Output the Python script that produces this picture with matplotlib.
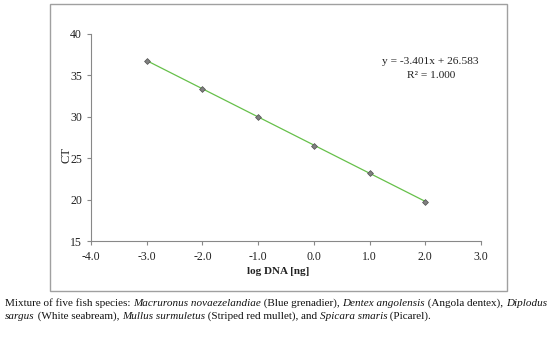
import matplotlib
matplotlib.use("Agg")
import matplotlib.pyplot as plt
from matplotlib.patches import Rectangle
from matplotlib.font_manager import FontProperties

# standard curve data
log_dna = [-3.0, -2.0, -1.0, 0.0, 1.0, 2.0]
ct = [36.79, 33.38, 29.92, 26.52, 23.20, 19.76]
slope = -3.401
intercept = 26.583
x_ticks = [-4.0, -3.0, -2.0, -1.0, 0.0, 1.0, 2.0, 3.0]
y_ticks = [15, 20, 25, 30, 35, 40]

caption_line1 = [("Mixture of five fish species: ", "normal"),
                 ("Macruronus novaezelandiae", "italic"),
                 (" (Blue grenadier), ", "normal"),
                 ("Dentex angolensis", "italic"),
                 (" (Angola dentex), ", "normal"),
                 ("Diplodus", "italic")]
caption_line2 = [("sargus", "italic"),
                 (" (White seabream), ", "normal"),
                 ("Mullus surmuletus", "italic"),
                 (" (Striped red mullet), and ", "normal"),
                 ("Spicara smaris", "italic"),
                 (" (Picarel).", "normal")]

plt.rcParams['font.family'] = ['Liberation Serif', 'DejaVu Serif']

W, H = 550, 337
fig = plt.figure(figsize=(5.5, 3.37), dpi=100)

# outer chart frame
fig.patches.append(Rectangle((50 / W, 1 - 291 / H), 457 / W, 287 / H,
                             transform=fig.transFigure, fill=False,
                             edgecolor='#a0a0a0', linewidth=1.0))

ax = fig.add_axes([91 / W, 1 - 241 / H, 390 / W, 207 / H])
fit_x = [log_dna[0], log_dna[-1]]
fit_y = [slope * v + intercept for v in fit_x]
ax.plot(fit_x, fit_y, color='#66c04a', linewidth=0.9, zorder=2)
ax.plot(log_dna, ct, linestyle='none', marker='D', markersize=3.0,
        markerfacecolor='#808080', markeredgecolor='#505050',
        markeredgewidth=0.5, zorder=3)

ax.set_xlim(-4, 3)
ax.set_ylim(15, 40)
ax.set_xticks(x_ticks)
ax.set_xticklabels([f"{v:.1f}" for v in x_ticks])
ax.set_yticks(y_ticks)
for s in ['top', 'right']:
    ax.spines[s].set_visible(False)
for s in ['left', 'bottom']:
    ax.spines[s].set_color('#888888')
    ax.spines[s].set_linewidth(0.8)
ax.tick_params(colors='#888888', labelcolor='#222222', labelsize=8.5,
               length=3, width=0.8)
ax.tick_params(axis='x', pad=4)

fig.text(66 / W, 1 - 155 / H, "CT", rotation=90, ha='center', va='center',
         fontsize=9, color='#222222')
fig.text(278 / W, 1 - 272 / H, "log DNA [ng]", ha='center', va='center',
         fontsize=8.0, fontweight='bold', color='#222222')
fig.text(430 / W, 1 - 62 / H, f"y = {slope:.3f}x + {intercept:.3f}",
         ha='center', va='center', fontsize=8.2, color='#222222')
fig.text(431 / W, 1 - 76 / H, "R\u00b2 = 1.000",
         ha='center', va='center', fontsize=8.2, color='#222222')

renderer = fig.canvas.get_renderer()
roman_fp = FontProperties(family=['Liberation Serif'], size=8.0)
italic_fp = FontProperties(family=['Liberation Serif'], style='italic', size=8.0)


def write_line(parts, x0, y0):
    x = x0
    for txt, style in parts:
        fp = italic_fp if style == 'italic' else roman_fp
        fig.text(x / W, 1 - y0 / H, txt, fontproperties=fp,
                 ha='left', va='baseline', color='#111111')
        w, h, d = renderer.get_text_width_height_descent(txt, fp, ismath=False)
        x += w


write_line(caption_line1, 5, 306)
write_line(caption_line2, 5, 319)

fig.savefig("out.png", dpi=100)
